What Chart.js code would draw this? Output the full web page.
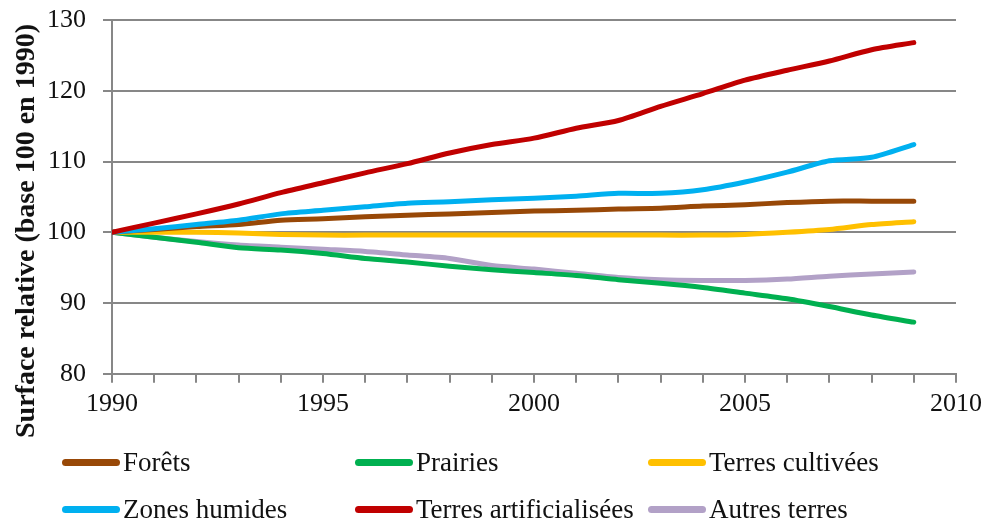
<!DOCTYPE html>
<html>
<head>
<meta charset="utf-8">
<script src="https://cdn.jsdelivr.net/npm/chart.js@4.4.1/dist/chart.umd.min.js"></script>
<style>
    html, body { margin: 0; padding: 0; background: #fff; }
    #wrap { position: relative; width: 988px; height: 524px; }
    #titreY { position: absolute; left: 25px; top: 231px; transform: translate(-50%, -50%) rotate(-90deg);
        white-space: nowrap; font-family: 'Liberation Serif', 'Times New Roman', serif;
        font-weight: bold; font-size: 28px; color: #111; }
    #legende { position: absolute; left: 62px; top: 445px; width: 920px;
        display: grid; grid-template-columns: 293px 293px 320px; row-gap: 13px;
        font-family: 'Liberation Serif', 'Times New Roman', serif; font-size: 27px; color: #111; }
    .item { display: flex; align-items: center; height: 34px; white-space: nowrap; }
    .trait { width: 58px; height: 7px; border-radius: 4px; margin-right: 3px; }
</style>
</head>
<body>
<div id="wrap">
    <canvas id="chartSurface" width="988" height="524"></canvas>
    <div id="titreY">Surface relative (base 100 en 1990)</div>
    <div id="legende"></div>
</div>
<script>
const annees = [1990, 1991, 1992, 1993, 1994, 1995, 1996, 1997, 1998, 1999,
                2000, 2001, 2002, 2003, 2004, 2005, 2006, 2007, 2008, 2009];

const forets = [100, 100.4, 100.8, 101.1, 101.7, 101.9, 102.2, 102.4, 102.6, 102.8,
                103.0, 103.1, 103.3, 103.4, 103.7, 103.9, 104.2, 104.4, 104.4, 104.4];
const prairies = [100, 99.3, 98.6, 97.8, 97.5, 97.0, 96.3, 95.8, 95.2, 94.7,
                  94.3, 93.9, 93.3, 92.8, 92.2, 91.4, 90.6, 89.5, 88.3, 87.3];
const terresCultivees = [100, 100, 100, 99.9, 99.7, 99.6, 99.6, 99.6, 99.6, 99.6,
                         99.6, 99.6, 99.6, 99.6, 99.6, 99.7, 100.0, 100.4, 101.1, 101.5];
const zonesHumides = [100, 100.5, 101.1, 101.7, 102.6, 103.1, 103.6, 104.1, 104.3, 104.6,
                      104.8, 105.1, 105.5, 105.5, 106.0, 107.1, 108.5, 110.1, 110.6, 112.4];
const terresArtificialisees = [100, 101.3, 102.6, 104.0, 105.6, 107.0, 108.4, 109.7, 111.2, 112.4,
                               113.3, 114.7, 115.8, 117.8, 119.6, 121.5, 122.9, 124.2, 125.8, 126.8];
const autresTerres = [100, 99.3, 98.7, 98.2, 97.9, 97.6, 97.3, 96.8, 96.3, 95.3,
                      94.8, 94.2, 93.6, 93.3, 93.2, 93.2, 93.4, 93.8, 94.1, 94.4];

const series = [
    { nom: 'Forêts', valeurs: forets, couleur: '#984807' },
    { nom: 'Prairies', valeurs: prairies, couleur: '#00B050' },
    { nom: 'Terres cultivées', valeurs: terresCultivees, couleur: '#FFC000' },
    { nom: 'Zones humides', valeurs: zonesHumides, couleur: '#00B0F0' },
    { nom: 'Terres artificialisées', valeurs: terresArtificialisees, couleur: '#C00000' },
    { nom: 'Autres terres', valeurs: autresTerres, couleur: '#B2A1C7' }
];

const police = "'Liberation Serif', 'Times New Roman', serif";
const gris = '#878787';

// ordre de dessin : les lignes du bas d'abord, comme dans l'original
const ordre = ['Autres terres', 'Prairies', 'Terres cultivées', 'Forêts', 'Zones humides', 'Terres artificialisées'];

new Chart(document.getElementById('chartSurface').getContext('2d'), {
    type: 'line',
    data: {
        datasets: series.map(s => ({
            label: s.nom,
            data: s.valeurs.map((v, i) => ({ x: annees[i], y: v })),
            borderColor: s.couleur,
            backgroundColor: s.couleur,
            borderWidth: 5,
            borderCapStyle: 'round',
            borderJoinStyle: 'round',
            tension: 0.25,
            pointRadius: 0,
            fill: false,
            order: ordre.length - ordre.indexOf(s.nom)
        }))
    },
    options: {
        responsive: false,
        animation: false,
        layout: { padding: { top: 20, right: 8, bottom: 98, left: 0 } },
        plugins: {
            legend: { display: false },
            tooltip: { enabled: false }
        },
        scales: {
            x: {
                type: 'linear',
                min: 1990,
                max: 2010,
                ticks: {
                    stepSize: 1,
                    autoSkip: false,
                    maxRotation: 0,
                    color: '#111',
                    font: { family: police, size: 26 },
                    padding: 6,
                    callback: (v) => v % 5 === 0 ? String(v) : ''
                },
                grid: { drawOnChartArea: false, drawTicks: true, tickLength: 9, color: gris, lineWidth: 2 },
                border: { color: gris, width: 2 }
            },
            y: {
                min: 80,
                max: 130,
                afterFit: (axe) => { axe.width = 112; },
                ticks: {
                    stepSize: 10,
                    color: '#111',
                    font: { family: police, size: 26 },
                    padding: 4,
                    // espace entre l'étiquette et la graduation, comme l'original
                    callback: (v) => v + '  '
                },
                grid: { color: gris, lineWidth: 2, tickLength: 9 },
                border: { color: gris, width: 2 }
            }
        }
    }
});

// légende en grille de trois colonnes
const legende = document.getElementById('legende');
series.forEach(s => {
    const item = document.createElement('div');
    item.className = 'item';
    item.innerHTML = `<span class="trait" style="background:${s.couleur}"></span><span>${s.nom}</span>`;
    legende.appendChild(item);
});
</script>
</body>
</html>
